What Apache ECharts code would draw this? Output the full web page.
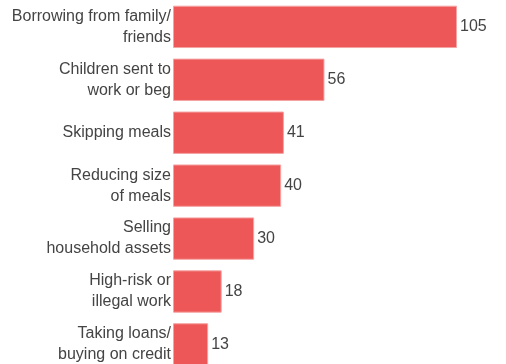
<!DOCTYPE html>
<html><head><meta charset="utf-8">
<script src="https://cdn.jsdelivr.net/npm/echarts@6/dist/echarts.min.js"></script>
<style>html,body{margin:0;padding:0;background:#fff}#c{width:506px;height:364px}</style>
</head><body><div id="c"></div>
<script>
const categories = ["Borrowing from family/\nfriends","Children sent to\nwork or beg","Skipping meals","Reducing size\nof meals","Selling\nhousehold assets","High-risk or\nillegal work","Taking loans/\nbuying on credit"];
const values = [105, 56, 41, 40, 30, 18, 13];
const chart = echarts.init(document.getElementById('c'), null, {renderer:'canvas'});
chart.setOption({
  animation:false,
  textStyle:{fontFamily:'Liberation Sans'},
  grid:{left:173, top:0.4, width:324.6, height:370.5, containLabel:false, outerBoundsMode:'none'},
  xAxis:{type:'value', min:0, max:120, show:false},
  yAxis:{type:'category', data:categories, inverse:true,
    axisLine:{show:false}, axisTick:{show:false},
    axisLabel:{fontSize:16, lineHeight:21, color:'#444', margin:2, fontFamily:'Liberation Sans', align:'right'}},
  series:[{type:'bar', data:values, barCategoryGap:'20%',
    itemStyle:{color:'#ee5757', borderColor:'#f5a3a3', borderWidth:1},
    label:{show:true, position:'right', distance:3, fontSize:16, color:'#444', fontFamily:'Liberation Sans'}}]
});
</script></body></html>
